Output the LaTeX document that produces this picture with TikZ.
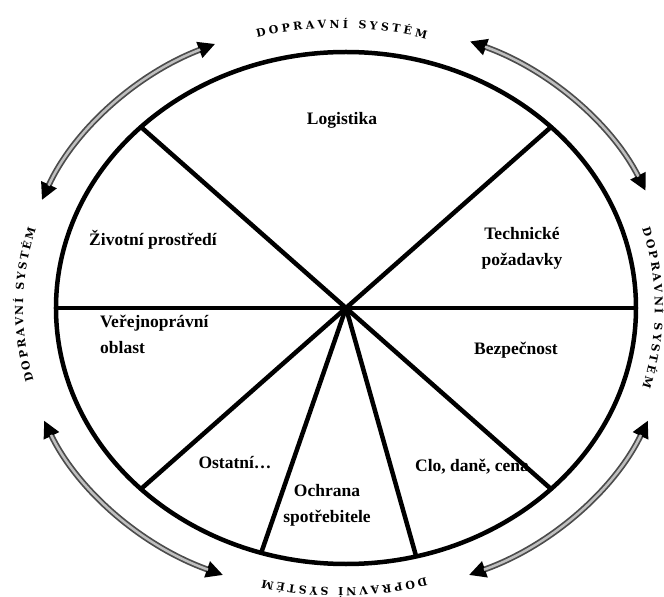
\documentclass[tikz,border=0pt]{standalone}
\usepackage{fontspec}
\setmainfont{Liberation Serif}
\newfontfamily\ringfont{DejaVu Serif}
\usetikzlibrary{arrows.meta,decorations.text}
\tikzset{
  sector/.style={font=\fontsize{17.5}{26}\selectfont\bfseries, align=center, inner sep=0pt},
  rim/.style={line width=4.5pt, black},
  spoke/.style={line width=4.5pt, black},
  flow/.style={line width=6pt, black!70, {Triangle[length=17pt,width=16pt,black]}-{Triangle[length=17pt,width=16pt,black]}},
  flowcore/.style={line width=2.5pt, gray!50, shorten <=16pt, shorten >=16pt},
  ringtext/.style={decorate, decoration={text along path, text align={fit to path},
      text={|\ringfont\fontsize{11}{11}\selectfont\bfseries|DOPRAVNÍ SYSTÉM}}}
}

\begin{document}
\begin{tikzpicture}[x=1pt,y=1pt]
  \useasboundingbox (-346,-289) rectangle (318,308);
  \coordinate (hub) at (0,0);

  % sectors
  \node[sector] (logistika) at (-4,188) {Logistika};
  \node[sector] (prostredi) at (-193,68) {Životní prostředí};
  \node[sector] (technicke) at (176,60) {Technické\\požadavky};
  \node[sector, anchor=west, align=left] (verejno) at (-246,-26) {Veřejnoprávní\\oblast};
  \node[sector] (bezpecnost) at (170,-42) {Bezpečnost};
  \node[sector] (ostatni) at (-111,-155) {Ostatní…};
  \node[sector] (ochrana) at (-19,-197) {Ochrana\\spotřebitele};
  \node[sector, anchor=west] (clo) at (69,-159) {Clo, daně, cena};

  \draw[rim] (hub) ellipse [x radius=290pt, y radius=256pt];
  \foreach \a in {135,45,180,0,-135,-45,-107,-76}
    \draw[spoke] (hub) -- (\a:290 and 256);

  % transport system ring
  \foreach \s/\e in {158/113.5, 67.8/24, -157/-112, -68/-23} {
    \draw[flow] (\s:328 and 288) arc[start angle=\s, end angle=\e, x radius=328pt, y radius=288pt];
    \draw[flowcore] (\s:328 and 288) arc[start angle=\s, end angle=\e, x radius=328pt, y radius=288pt];
  }
  \foreach \s/\e in {105/74, 16.5/-16.3, -74/-104, 195/163.5}
    \path[ringtext] ([shift={(-7,0)}]\s:316 and 280) arc[start angle=\s, end angle=\e, x radius=316pt, y radius=280pt];
\end{tikzpicture}
\end{document}
